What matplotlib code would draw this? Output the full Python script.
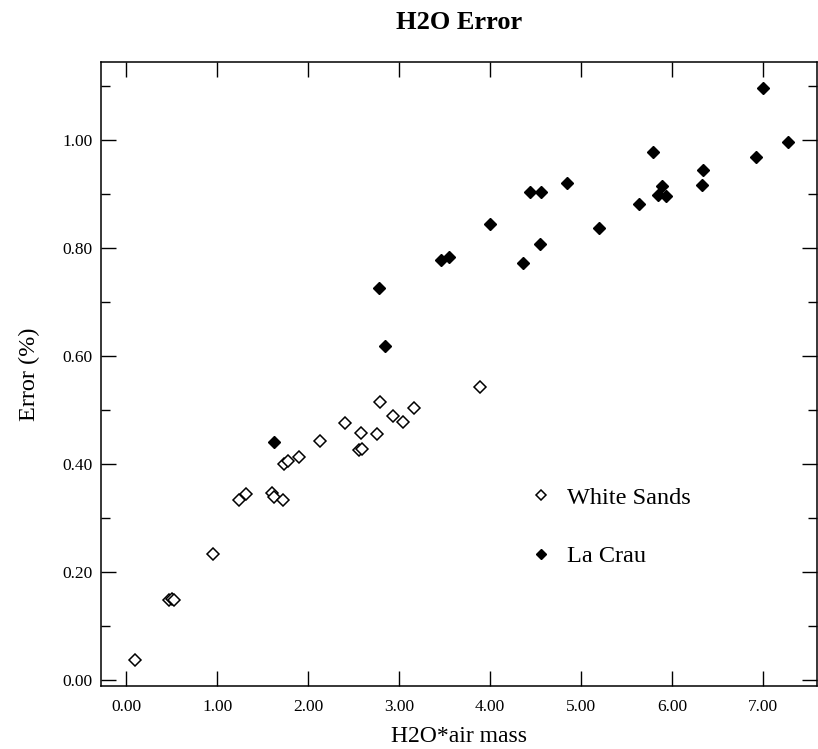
import numpy as np
import matplotlib
matplotlib.use("Agg")
import matplotlib.pyplot as plt
from matplotlib.ticker import MultipleLocator, FormatStrFormatter

# White Sands (open diamonds)
ws_x = [0.10, 0.47, 0.50, 0.53, 0.95, 1.24, 1.32, 1.60, 1.62, 1.72, 1.74, 1.78,
        1.90, 2.13, 2.41, 2.58, 2.56, 2.59, 2.76, 2.79, 2.93, 3.04, 3.16, 3.89]
ws_y = [0.038, 0.148, 0.150, 0.148, 0.234, 0.333, 0.344, 0.346, 0.339, 0.333, 0.400, 0.405,
        0.413, 0.443, 0.475, 0.457, 0.426, 0.428, 0.456, 0.514, 0.489, 0.477, 0.504, 0.543]

# La Crau (filled diamonds)
lc_x = [1.62, 2.78, 2.84, 3.46, 3.55, 4.00, 4.36, 4.44, 4.56, 4.55, 4.84,
        5.20, 5.63, 5.79, 5.89, 5.84, 5.93, 6.34, 6.33, 6.92, 7.00, 7.27]
lc_y = [0.440, 0.725, 0.618, 0.778, 0.783, 0.844, 0.772, 0.904, 0.904, 0.807, 0.920,
        0.836, 0.882, 0.978, 0.915, 0.897, 0.896, 0.944, 0.916, 0.969, 1.095, 0.996]

plt.rcParams['font.family'] = ['Liberation Serif', 'DejaVu Serif']

fig = plt.figure(figsize=(8.18, 7.49), dpi=100)
ax = fig.add_axes([0.1235, 0.0841, 0.8753, 0.8331])

ax.plot(ws_x, ws_y, linestyle='none', marker='D', markersize=5.8,
        markerfacecolor='white', markeredgecolor='black', markeredgewidth=1.1,
        label='White Sands')
ax.plot(lc_x, lc_y, linestyle='none', marker='D', markersize=5.8,
        markerfacecolor='black', markeredgecolor='black', markeredgewidth=1.0,
        label='La Crau')

ax.set_xlim(-0.275, 7.59)
ax.set_ylim(-0.011, 1.144)

ax.xaxis.set_major_locator(MultipleLocator(1.0))
ax.yaxis.set_major_locator(MultipleLocator(0.2))
ax.yaxis.set_minor_locator(MultipleLocator(0.1))
ax.xaxis.set_major_formatter(FormatStrFormatter('%.2f'))
ax.yaxis.set_major_formatter(FormatStrFormatter('%.2f'))

ax.tick_params(which='both', direction='in', top=True, right=True, width=1.0, labelsize=12.5)
ax.tick_params(which='major', length=11)
ax.tick_params(which='minor', length=6.5)
ax.tick_params(axis='x', pad=9)
ax.tick_params(axis='y', pad=6)
for s in ax.spines.values():
    s.set_linewidth(1.1)

ax.set_title('H2O Error', fontsize=19, fontweight='bold', pad=24)
ax.set_xlabel('H2O*air mass', fontsize=17, labelpad=8)
ax.set_ylabel('Error (%)', fontsize=17.5, labelpad=16)

ax.legend(loc='center left', bbox_to_anchor=(0.648, 0.2964), bbox_transform=fig.transFigure,
          frameon=False, fontsize=17.5, markerscale=0.9, handlelength=0.9,
          handletextpad=0.6, labelspacing=1.5, borderpad=0, borderaxespad=0)

fig.savefig('out.png', dpi=100)
